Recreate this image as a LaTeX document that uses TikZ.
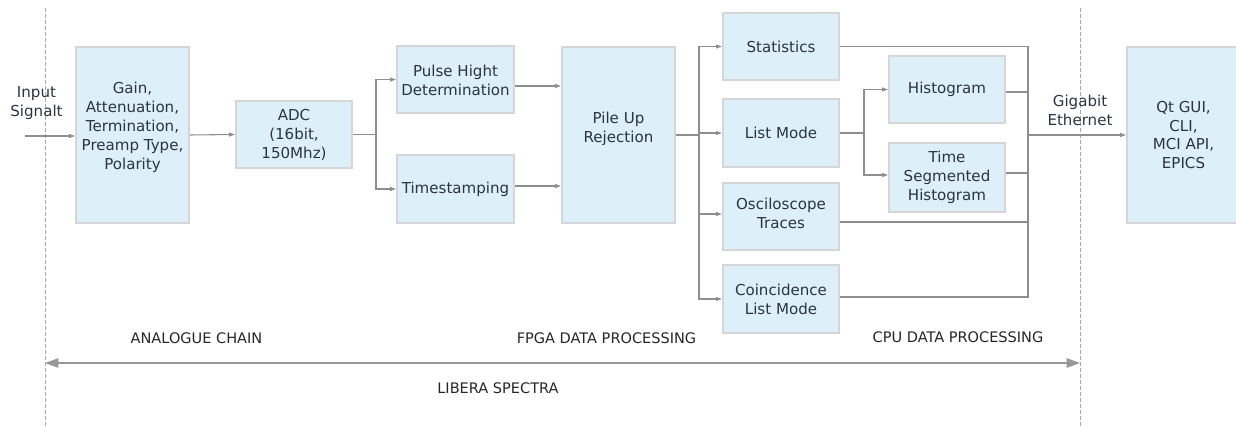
\documentclass[tikz,border=0pt]{standalone}
\usepackage{fontspec}
\setmainfont{DejaVu Sans}
\usetikzlibrary{arrows.meta,calc}
\definecolor{boxfill}{HTML}{DDF0FA}
\definecolor{boxline}{HTML}{D6D6D6}
\definecolor{conncol}{HTML}{8E8E8E}
\definecolor{txtcol}{HTML}{2B3440}
\definecolor{dashcol}{HTML}{A8A8A8}
\newcommand{\liftlines}[2]{\raisebox{#1}[\height][\depth]{\begin{tabular}{@{}c@{}}#2\end{tabular}}}
\begin{document}
\begin{tikzpicture}[x=0.75pt,y=-0.75pt,
  blk/.style={draw=boxline,line width=1.5pt,fill=boxfill,text=txtcol,align=center,
    inner sep=0pt,font=\fontsize{11.3}{14.2}\selectfont},
  conn/.style={draw=conncol,line width=0.8pt},
  arr/.style={conn,-{Triangle[length=4.5pt,width=3pt]}},
  lbl/.style={text=txtcol,align=center,font=\fontsize{11.3}{14.2}\selectfont,inner sep=0pt},
  sec/.style={text=black!85,font=\fontsize{10.9}{14.2}\selectfont,inner sep=0pt},
  divider/.style={draw=dashcol,line width=0.75pt,dash pattern=on 3pt off 1.5pt}]
\useasboundingbox (0,0) rectangle (1236,428);
\begin{scope}
\clip (0,0) rectangle (1236,428);
% dividers
\coordinate (dlt) at (45,8);
\coordinate (dlb) at (45,428);
\coordinate (drt) at (1080,8);
\coordinate (drb) at (1080,428);
\draw[divider] (dlt) -- (dlb);
\draw[divider] (drt) -- (drb);
% boxes
\node[blk,minimum width=113*0.75pt,minimum height=176*0.75pt] (g1) at (132.5,135)
  {\liftlines{5.5pt}{Gain,\\Attenuation,\\Termination,\\Preamp Type,\\Polarity}};
\node[blk,minimum width=116*0.75pt,minimum height=67*0.75pt] (adc) at (294,134.5)
  {ADC\\(16bit,\\150Mhz)};
\node[blk,minimum width=117*0.75pt,minimum height=67*0.75pt] (phd) at (455.5,79.5)
  {\liftlines{-2.2pt}{Pulse Hight\\Determination}};
\node[blk,minimum width=117*0.75pt,minimum height=68*0.75pt] (ts) at (455.5,189)
  {Timestamping};
\node[blk,minimum width=113*0.75pt,minimum height=176*0.75pt] (pur) at (618.5,135)
  {\liftlines{4.5pt}{Pile Up\\Rejection}};
\node[blk,minimum width=116*0.75pt,minimum height=67*0.75pt] (stat) at (781,46.5)
  {Statistics};
\node[blk,minimum width=116*0.75pt,minimum height=68*0.75pt] (lm) at (781,133)
  {List Mode};
\node[blk,minimum width=116*0.75pt,minimum height=67*0.75pt] (osc) at (781,216.5)
  {\liftlines{0.8pt}{Osciloscope\\Traces}};
\node[blk,minimum width=116*0.75pt,minimum height=68*0.75pt] (coinc) at (781,299)
  {Coincidence\\List Mode};
\node[blk,minimum width=116*0.75pt,minimum height=67*0.75pt] (hist) at (947,89.5)
  {Histogram};
\node[blk,minimum width=116*0.75pt,minimum height=69*0.75pt] (tsh) at (947,177.5)
  {Time\\Segmented\\Histogram};
\node[blk,minimum width=113*0.75pt,minimum height=176*0.75pt] (gui) at (1183.5,135)
  {Qt GUI,\\CLI,\\MCI API,\\EPICS};
% labels
\node[lbl] (insig) at (36.5,103.5) {Input\\Signalt};
\node[lbl] (geth) at (1080,110.5) {Gigabit\\Ethernet};
% helper coordinates
\coordinate (in) at (25,136);
\coordinate (s1) at (376,134.5);
\coordinate (s2) at (699,135);
\coordinate (s3) at (864,133);
\coordinate (bus) at (1028,135);
\path ($(phd.east)+(0,6.5)$) coordinate (phdo);
\path ($(ts.east)+(0,-3)$) coordinate (tso);
\path ($(osc.west)+(0,-2.5)$) coordinate (osci);
\path ($(tsh.west)+(0,-2.5)$) coordinate (tshi);
\path ($(hist.east)+(0,2.5)$) coordinate (histo);
\path ($(tsh.east)+(0,-4.5)$) coordinate (tsho);
\path ($(osc.east)+(0,5.5)$) coordinate (osco);
\path ($(coinc.east)+(0,-2)$) coordinate (coinco);
% connectors
\draw[arr] (in) -- (in -| g1.west);
\draw[arr] (g1.east) -- (adc.west);
\draw[conn] (adc.east) -- (s1);
\draw[arr] (s1) |- (phd.west);
\draw[arr] (s1) |- (ts.west);
\draw[arr] (phdo) -- (phdo -| pur.west);
\draw[arr] (tso) -- (tso -| pur.west);
\draw[conn] (pur.east) -- (s2);
\draw[arr] (s2) |- (stat.west);
\draw[arr] (s2) |- (lm.west);
\draw[arr] (s2) |- (osci);
\draw[arr] (s2) |- (coinc.west);
\draw[conn] (lm.east) -- (s3);
\draw[arr] (s3) |- (hist.west);
\draw[arr] (s3) |- (tshi);
\draw[conn] (stat.east) -| (bus);
\draw[conn] (coinco) -| (bus);
\draw[conn] (histo) -- (histo -| bus);
\draw[conn] (tsho) -- (tsho -| bus);
\draw[conn] (osco) -- (osco -| bus);
\draw[arr] (bus) -- (gui.west);
% section labels
\node[sec] (lanalog) at (196.5,338) {ANALOGUE CHAIN};
\node[sec] (lfpga) at (606.5,338) {FPGA DATA PROCESSING};
\node[sec] (lcpu) at (958,337) {CPU DATA PROCESSING};
\node[sec] (llib) at (498,388) {LIBERA SPECTRA};
\coordinate (al) at (45,363);
\coordinate (ar) at (1080,363);
\draw[draw=dashcol!90!black,line width=1.1pt,{Triangle[length=10pt,width=7pt]}-{Triangle[length=10pt,width=7pt]}] (al) -- (ar);
\end{scope}
\end{tikzpicture}
\end{document}
